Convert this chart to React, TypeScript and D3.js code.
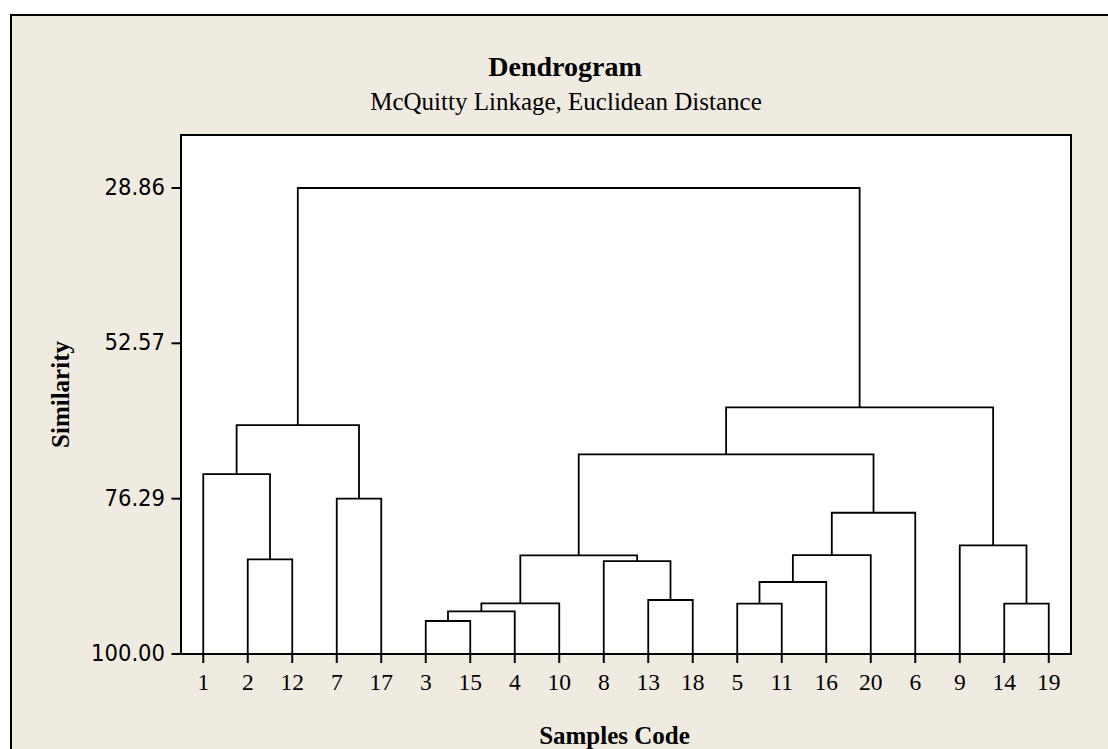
import React from 'react';
import * as d3 from 'd3';

// amalgamation steps: cluster Cn is built at step n (1-based)
const mergeLeft = ['3', 'C1', '5', '14', 'C2', '13', 'C3', '8', '2', 'C5', 'C7', '9', 'C11', '7', '1', 'C10', 'C15', 'C16', 'C17'];
const mergeRight = ['15', '4', '11', '19', '10', '18', '16', 'C6', '12', 'C8', '20', 'C4', '6', '17', 'C9', 'C13', 'C14', 'C12', 'C18'];
const mergeSimilarity = [94.96, 93.49, 92.32, 92.32, 92.27, 91.76, 89.01, 85.81, 85.55, 84.94, 84.9, 83.42, 78.44, 76.29, 72.54, 69.53, 65.06, 62.36, 28.86];
const yTicks = [28.86, 52.57, 76.29, 100.0];

const W = 1108;
const H = 749;
const plot = { left: 181, right: 1071, top: 135, bottom: 654 };
const bg = '#EFEBE1';
const serif = "'Liberation Serif', 'Times New Roman', serif";
const sans = "'DejaVu Sans Condensed', 'DejaVu Sans', sans-serif";

const isCluster = (id: string) => id.charAt(0) === 'C';
const idx = (id: string) => +id.slice(1) - 1;

function leavesOf(id: string): string[] {
  if (!isCluster(id)) return [id];
  const i = idx(id);
  return leavesOf(mergeLeft[i]).concat(leavesOf(mergeRight[i]));
}

export default function App() {
  const root = 'C' + mergeLeft.length;
  const order = leavesOf(root);

  const x = d3.scalePoint<string>().domain(order).range([plot.left, plot.right]).padding(0.5);
  const y = d3.scaleLinear()
    .domain([d3.min(mergeSimilarity) as number, 100])
    .range([plot.top + 53, plot.bottom]);

  const nodeX = (id: string): number => {
    if (!isCluster(id)) return x(id) as number;
    const i = idx(id);
    return (nodeX(mergeLeft[i]) + nodeX(mergeRight[i])) / 2;
  };
  const nodeY = (id: string): number => (isCluster(id) ? y(mergeSimilarity[idx(id)]) : y(100));

  const links = mergeLeft.map((l, i) => {
    const r = mergeRight[i];
    const p = d3.path();
    p.moveTo(nodeX(l), nodeY(l));
    p.lineTo(nodeX(l), y(mergeSimilarity[i]));
    p.lineTo(nodeX(r), y(mergeSimilarity[i]));
    p.lineTo(nodeX(r), nodeY(r));
    return p.toString();
  });

  return (
    <svg width={W} height={H} style={{ position: 'absolute', left: 0, top: 0, background: '#fff' }}>
      <rect x={11} y={15} width={1200} height={800} fill={bg} stroke="#000" strokeWidth={2} />

      <text x={565} y={76} textAnchor="middle" fontFamily={serif} fontWeight="bold" fontSize={28}>Dendrogram</text>
      <text x={566} y={110} textAnchor="middle" fontFamily={serif} fontSize={25}>McQuitty Linkage, Euclidean Distance</text>

      <rect x={plot.left} y={plot.top} width={plot.right - plot.left} height={plot.bottom - plot.top}
        fill="#fff" stroke="#000" strokeWidth={2} />

      {links.map((d, i) => (
        <path key={i} d={d} fill="none" stroke="#000" strokeWidth={1.8} />
      ))}

      {yTicks.map(t => (
        <g key={t}>
          <line x1={plot.left - 9.5} x2={plot.left} y1={y(t)} y2={y(t)} stroke="#000" strokeWidth={2} />
          <text x={plot.left - 16} y={y(t) + 7} textAnchor="end" fontFamily={sans} fontSize={23.5}>{t.toFixed(2)}</text>
        </g>
      ))}

      {order.map(leaf => (
        <g key={leaf}>
          <line x1={x(leaf)} x2={x(leaf)} y1={plot.bottom} y2={plot.bottom + 9} stroke="#000" strokeWidth={2} />
          <text x={x(leaf)} y={690} textAnchor="middle" fontFamily={serif} fontSize={23.5}>{leaf}</text>
        </g>
      ))}

      <text x={614.5} y={744} textAnchor="middle" fontFamily={serif} fontWeight="bold" fontSize={25}>Samples Code</text>
      <text transform={`translate(69,${(plot.top + plot.bottom) / 2}) rotate(-90)`} textAnchor="middle"
        fontFamily={serif} fontWeight="bold" fontSize={25}>Similarity</text>
    </svg>
  );
}
